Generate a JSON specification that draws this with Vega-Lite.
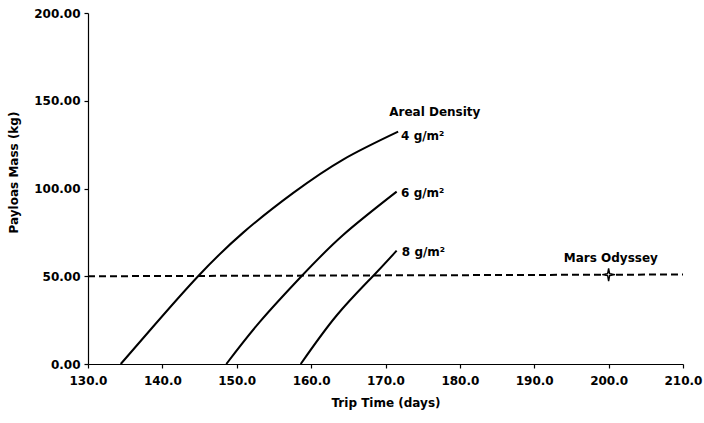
{
  "$schema": "https://vega.github.io/schema/vega-lite/v6.json",
  "width": 595,
  "height": 351,
  "autosize": {"type": "none"},
  "padding": {"left": 88, "top": 13, "right": 21, "bottom": 59},
  "background": "white",
  "config": {
    "view": {"stroke": null},
    "axis": {"grid": false, "domainColor": "black", "tickColor": "black", "labelColor": "black", "titleColor": "black", "labelFont": "DejaVu Sans", "titleFont": "DejaVu Sans", "labelFontWeight": "bold", "titleFontWeight": "bold", "domainWidth": 1.2, "tickWidth": 1.2, "tickSize": 4}
  },
  "datasets": {
    "curves": [
      {"t": 134.4, "m": 0, "d": "4"},
      {"t": 138.8, "m": 21.5, "d": "4"},
      {"t": 144.8, "m": 50, "d": "4"},
      {"t": 150.9, "m": 75, "d": "4"},
      {"t": 157.6, "m": 97.5, "d": "4"},
      {"t": 164.3, "m": 116.5, "d": "4"},
      {"t": 171.7, "m": 132.4, "d": "4"},
      {"t": 148.6, "m": 0, "d": "6"},
      {"t": 153.1, "m": 24, "d": "6"},
      {"t": 158.7, "m": 50, "d": "6"},
      {"t": 164.3, "m": 73.5, "d": "6"},
      {"t": 171.5, "m": 98.2, "d": "6"},
      {"t": 158.6, "m": 0, "d": "8"},
      {"t": 163.4, "m": 27.5, "d": "8"},
      {"t": 168.3, "m": 50, "d": "8"},
      {"t": 171.5, "m": 64.6, "d": "8"}
    ],
    "odyssey_line": [
      {"t": 130, "m": 50},
      {"t": 210, "m": 51}
    ],
    "odyssey_point": [
      {"t": 200, "m": 50.9}
    ],
    "labels": [
      {"t": 170.5, "m": 143.8, "label": "Areal Density"},
      {"t": 172.1, "m": 129.9, "label": "4 g/m²"},
      {"t": 172.1, "m": 97.4, "label": "6 g/m²"},
      {"t": 172.2, "m": 64.0, "label": "8 g/m²"}
    ],
    "odyssey_label": [
      {"t": 200.3, "m": 60.4, "label": "Mars Odyssey"}
    ]
  },
  "layer": [
    {
      "data": {"name": "odyssey_line"},
      "mark": {"type": "line", "color": "black", "strokeWidth": 2, "strokeDash": [7, 4]},
      "encoding": {
        "x": {"field": "t", "type": "quantitative", "scale": {"domain": [130, 210], "nice": false}, "axis": {"values": [130, 140, 150, 160, 170, 180, 190, 200, 210], "format": ".1f", "title": "Trip Time (days)", "labelFontSize": 12, "titleFontSize": 12, "labelPadding": 7, "titlePadding": 11, "labelFlush": false}},
        "y": {"field": "m", "type": "quantitative", "scale": {"domain": [0, 200], "nice": false}, "axis": {"values": [0, 50, 100, 150, 200], "format": ".2f", "title": "Payloas Mass (kg)", "labelFontSize": 12, "titleFontSize": 12, "labelPadding": 4, "titleX": -68, "titleY": 159}}
      }
    },
    {
      "data": {"name": "curves"},
      "mark": {"type": "line", "color": "black", "strokeWidth": 2, "interpolate": "natural"},
      "encoding": {
        "x": {"field": "t", "type": "quantitative"},
        "y": {"field": "m", "type": "quantitative"},
        "detail": {"field": "d"}
      }
    },
    {
      "data": {"name": "odyssey_point"},
      "mark": {"type": "point", "shape": "M0,-1L0.16,-0.16L1,0L0.16,0.16L0,1L-0.16,0.16L-1,0L-0.16,-0.16Z", "filled": true, "fill": "white", "stroke": "black", "strokeWidth": 1.4, "size": 160, "opacity": 1},
      "encoding": {
        "x": {"field": "t", "type": "quantitative"},
        "y": {"field": "m", "type": "quantitative"}
      }
    },
    {
      "data": {"name": "labels"},
      "mark": {"type": "text", "align": "left", "baseline": "middle", "font": "DejaVu Sans", "fontWeight": "bold", "fontSize": 12, "color": "black"},
      "encoding": {
        "x": {"field": "t", "type": "quantitative"},
        "y": {"field": "m", "type": "quantitative"},
        "text": {"field": "label"}
      }
    },
    {
      "data": {"name": "odyssey_label"},
      "mark": {"type": "text", "align": "center", "baseline": "middle", "font": "DejaVu Sans", "fontWeight": "bold", "fontSize": 12, "color": "black"},
      "encoding": {
        "x": {"field": "t", "type": "quantitative"},
        "y": {"field": "m", "type": "quantitative"},
        "text": {"field": "label"}
      }
    }
  ]
}
